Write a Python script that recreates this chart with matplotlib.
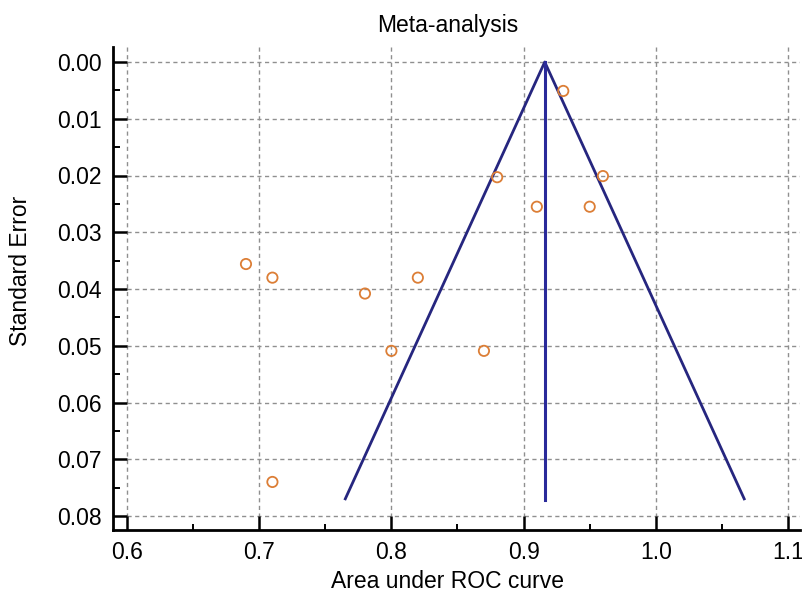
import matplotlib
matplotlib.use("Agg")
import matplotlib.pyplot as plt
import numpy as np

# Study AUC values and their standard errors
auc = [0.69, 0.71, 0.78, 0.82, 0.93, 0.88, 0.96, 0.91, 0.95, 0.80, 0.87, 0.71]
se = [0.0356, 0.0380, 0.0408, 0.0380, 0.0051, 0.0203, 0.0201, 0.0255, 0.0255, 0.0509, 0.0509, 0.0740]

# Funnel parameters
pooled_auc = 0.916
se_max = 0.0772
z = 1.96

x_ticks = [0.6, 0.7, 0.8, 0.9, 1.0, 1.1]
x_tick_labels = ["0.6", "0.7", "0.8", "0.9", "1.0", "1.1"]
y_ticks = [0.00, 0.01, 0.02, 0.03, 0.04, 0.05, 0.06, 0.07, 0.08]
y_tick_labels = ["0.00", "0.01", "0.02", "0.03", "0.04", "0.05", "0.06", "0.07", "0.08"]

plt.rcParams['font.family'] = ['Liberation Sans', 'DejaVu Sans']

W, H = 803, 601
fig = plt.figure(figsize=(W / 100, H / 100), dpi=100)
ax = fig.add_axes([113 / W, (H - 530) / H, (800 - 113) / W, (530 - 47) / H])

xlim = (0.6 - 14 / 1322, 0.6 + (800 - 127) / 1322)
ylim = (0.08 + 14 / 5675, -15 / 5675)
ax.set_xlim(*xlim)
ax.set_ylim(*ylim)

# grid lines restricted to the inner data region
gcol = '#8f8f8f'
ax.vlines(x_ticks, ylim[1], 0.08, colors=gcol, linestyles=(0, (3, 2.5)), linewidth=1.0, zorder=1)
ax.hlines(y_ticks, 0.6, xlim[1], colors=gcol, linestyles=(0, (3, 2.5)), linewidth=1.0, zorder=1)

# funnel
navy = '#26267f'
ax.plot([pooled_auc - z * se_max, pooled_auc, pooled_auc + z * se_max], [se_max, 0, se_max],
        color=navy, linewidth=2.0, zorder=3, solid_capstyle='butt')
ax.plot([pooled_auc, pooled_auc], [0, se_max], color='#2a2a9a', linewidth=2.2, zorder=3)

# study points
ax.scatter(auc, se, s=55, facecolors='none', edgecolors='#dc7e36', linewidths=1.3, zorder=4)

for s in ['top', 'right']:
    ax.spines[s].set_visible(False)
for s in ['left', 'bottom']:
    ax.spines[s].set_linewidth(2.0)
    ax.spines[s].set_color('black')

ax.set_xticks(x_ticks)
ax.set_xticklabels(x_tick_labels)
ax.set_yticks(y_ticks)
ax.set_yticklabels(y_tick_labels)
ax.set_xticks(np.array(x_ticks[:-1]) + 0.05, minor=True)
ax.set_yticks(np.array(y_ticks[:-1]) + 0.005, minor=True)

ax.tick_params(axis='both', which='major', direction='in', length=10.2, width=1.8,
               labelsize=16.5, colors='black', pad=8)
ax.tick_params(axis='x', which='minor', direction='in', length=4, width=1.4)
ax.tick_params(axis='y', which='minor', direction='in', length=5, width=1.4)

ax.set_title('Meta-analysis', fontsize=16.5, pad=11, x=0.487)
ax.set_xlabel('Area under ROC curve', fontsize=16.5, labelpad=8)
ax.xaxis.set_label_coords(0.487, -0.083)
ax.set_ylabel('Standard Error', fontsize=16.5)
ax.yaxis.set_label_coords(-0.118, 0.536)

fig.savefig('out.png', dpi=100)
